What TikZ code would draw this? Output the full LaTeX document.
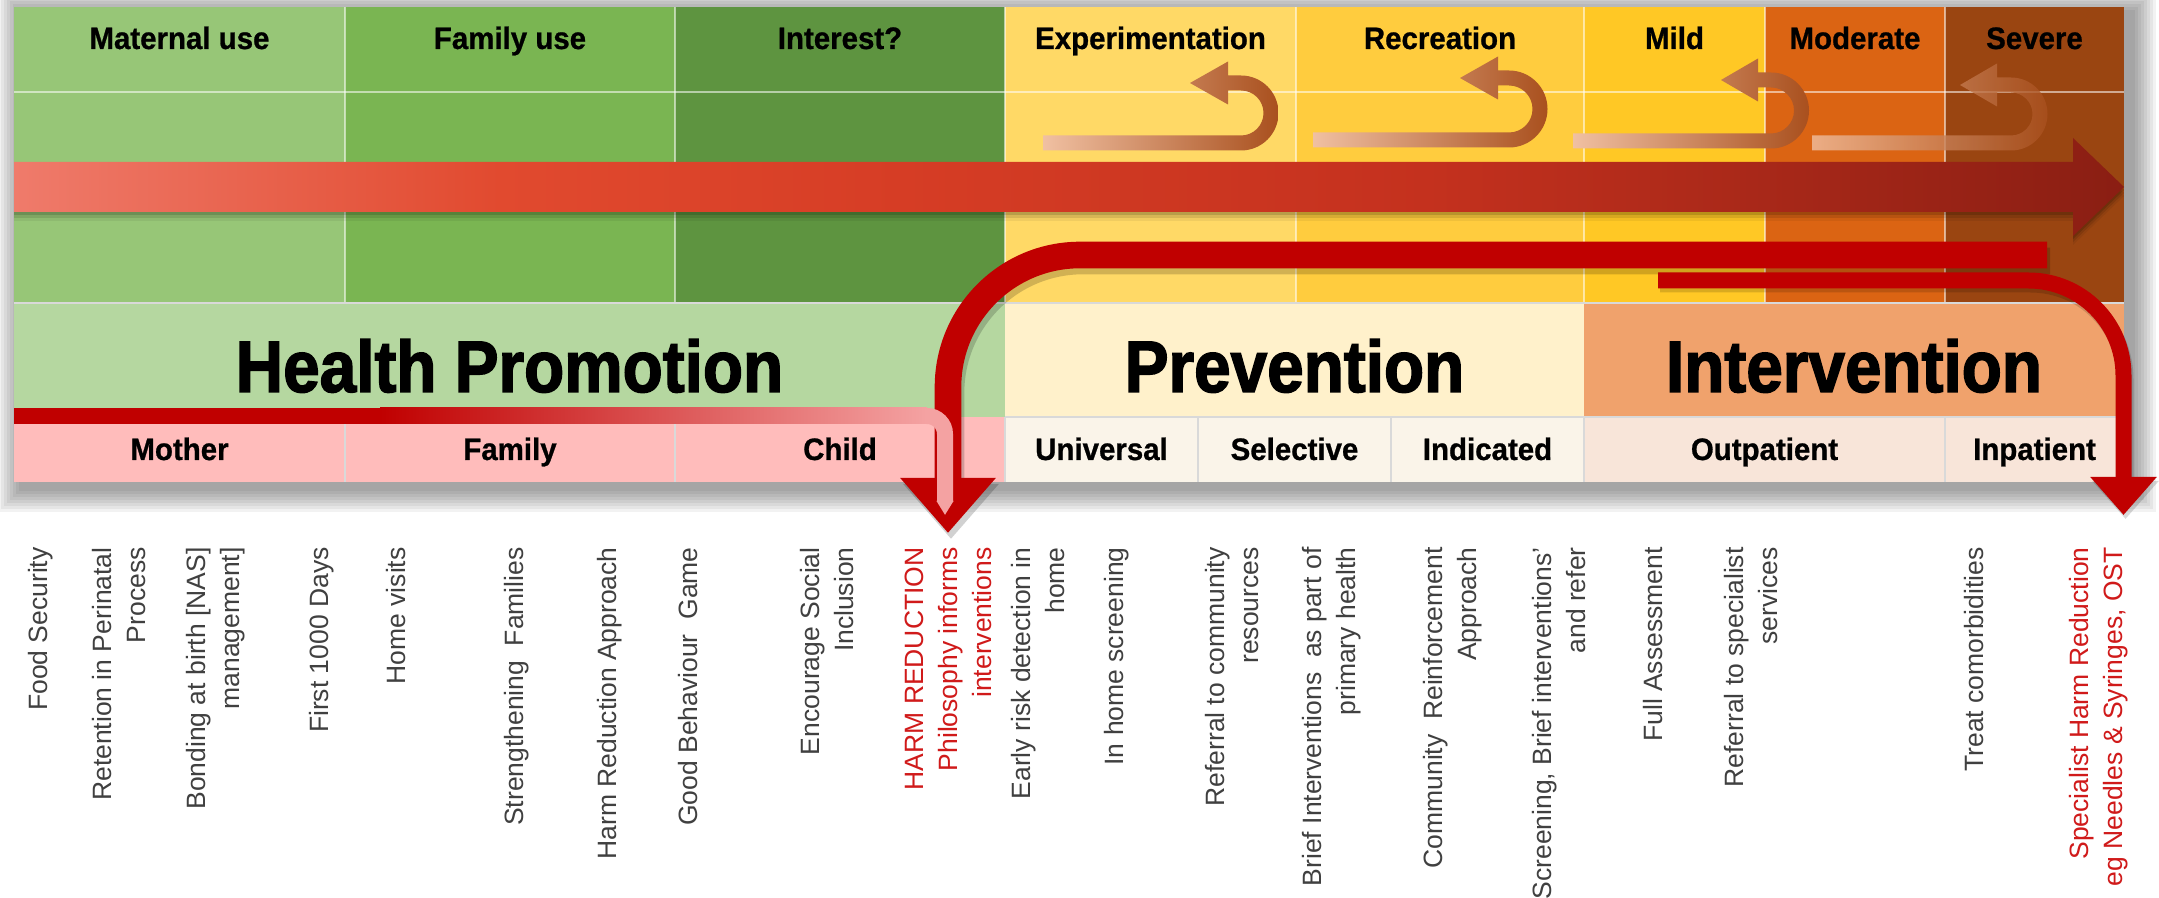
\documentclass[tikz,border=0pt]{standalone}
\usepackage{fontspec}
\setmainfont{Liberation Sans}
\newfontfamily\hdfont[UprightFont=* Bold,FakeStretch=0.95,FakeBold=0.8]{Liberation Sans}
\newfontfamily\bigfont[UprightFont=* Bold,FakeStretch=0.9,FakeBold=2]{Liberation Sans}
\usetikzlibrary{arrows.meta}
\definecolor{cMat}{HTML}{97C677}
\definecolor{cFam}{HTML}{7AB552}
\definecolor{cInt}{HTML}{5E9440}
\definecolor{cExp}{HTML}{FFD966}
\definecolor{cRec}{HTML}{FFCC3E}
\definecolor{cMild}{HTML}{FFC825}
\definecolor{cMod}{HTML}{DB6413}
\definecolor{cSev}{HTML}{9A4511}
\definecolor{cHP}{HTML}{B5D7A0}
\definecolor{cPrev}{HTML}{FFF1CB}
\definecolor{cIntv}{HTML}{F0A26C}
\definecolor{cPink}{HTML}{FFBCBB}
\definecolor{cPrevSub}{HTML}{FAF4E9}
\definecolor{cIntvSub}{HTML}{F8E5D9}
\definecolor{dred}{HTML}{C00000}
\definecolor{pinkarr}{HTML}{F4A2A2}
\definecolor{txt}{HTML}{404040}
\definecolor{redtxt}{HTML}{D01A1A}
\definecolor{ma1}{HTML}{EF7B6B}
\definecolor{ma2}{HTML}{E14A2F}
\definecolor{ma3}{HTML}{D63D25}
\definecolor{ma4}{HTML}{C4311E}
\definecolor{ma5}{HTML}{8A1E13}
\definecolor{uL}{HTML}{F0C0A2}
\definecolor{uR}{HTML}{A9501E}
\pgfdeclarehorizontalshading{mainarrow}{100bp}{color(0bp)=(ma1); color(25bp)=(ma1); color(36.5bp)=(ma2); color(46bp)=(ma3); color(58.5bp)=(ma4); color(75bp)=(ma5); color(100bp)=(ma5)}
\newcommand{\myuturn}[7]{%
  \pgfmathsetmacro{\uri}{#4-7.5}%
  \pgfmathsetmacro{\uro}{#4+7.5}%
  \pgfmathsetmacro{\uyt}{#2-2*#4}%
  \shade[left color=uL, right color=uR, opacity=#7]
    (#1,{#2-7.5}) -- (#3,{#2-7.5})
    arc[start angle=90, end angle=-90, radius=\uri]
    -- (#5,{\uyt+7.5}) -- (#5,{\uyt+21.5}) -- (#6,\uyt) -- (#5,{\uyt-21.5}) -- (#5,{\uyt-7.5}) -- (#3,{\uyt-7.5})
    arc[start angle=-90, end angle=90, radius=\uro]
    -- (#1,{#2+7.5}) -- cycle;}
\begin{document}
\begin{tikzpicture}[x=0.5pt,y=-0.5pt,
  hd/.style={font=\hdfont\fontsize{15.5}{18}\selectfont, anchor=base, inner sep=0pt, text=black},
  big/.style={font=\bigfont\fontsize{36.5}{40}\selectfont, anchor=base, inner sep=0pt, text=black},
  vt/.style={rotate=90, anchor=east, align=right, inner sep=0pt, font=\fontsize{13.25}{17}\selectfont, text=txt},
  vtred/.style={vt, text=redtxt},
  gridl/.style={draw=white, draw opacity=0.55, line width=0.7pt},
  subgrid/.style={draw=black!15, line width=0.6pt}]
\useasboundingbox (0,0) rectangle (2159,898);
\fill[white] (0,0) rectangle (2159,898);
% panel shadow
\foreach \i in {1,...,8}
  \fill[black, opacity=0.05] ({22-3*\i},{13-3*\i}) rectangle ({2132+3*\i},{488+3*\i});
% column fills
\fill[cMat] (14,7) rectangle (345,303);
\fill[cFam] (345,7) rectangle (675,303);
\fill[cInt] (675,7) rectangle (1005,303);
\fill[cExp] (1005,7) rectangle (1296,303);
\fill[cRec] (1296,7) rectangle (1584,303);
\fill[cMild] (1584,7) rectangle (1765,303);
\fill[cMod] (1765,7) rectangle (1945,303);
\fill[cSev] (1945,7) rectangle (2124,303);
% bands
\fill[cHP] (14,303) rectangle (1005,417);
\fill[cPrev] (1005,303) rectangle (1584,417);
\fill[cIntv] (1584,303) rectangle (2124,417);
% sub rows
\fill[cPink] (14,417) rectangle (1005,482);
\fill[cPrevSub] (1005,417) rectangle (1584,482);
\fill[cIntvSub] (1584,417) rectangle (2124,482);
% grid
\foreach \x in {345,675,1005,1296,1584,1765,1945} \draw[gridl] (\x,7) -- (\x,303);
\draw[gridl] (14,92) -- (2124,92);
\draw[subgrid] (14,303) -- (2124,303);
\draw[subgrid] (1005,417) -- (2124,417);
\foreach \x in {345,675,1005,1198,1391,1584,1945} \draw[subgrid] (\x,417) -- (\x,482);
% header labels
\node[hd] (hMat) at (179.5,49) {Maternal use};
\node[hd] (hFam) at (510,49) {Family use};
\node[hd] (hInt) at (840,49) {Interest?};
\node[hd] (hExp) at (1150.5,49) {Experimentation};
\node[hd] (hRec) at (1440,49) {Recreation};
\node[hd] (hMild) at (1674.5,49) {Mild};
\node[hd] (hMod) at (1855,49) {Moderate};
\node[hd] (hSev) at (2034.5,49) {Severe};
% u-turn arrows
\myuturn{1043}{143}{1241}{30}{1228}{1190}{1}
\myuturn{1313}{140}{1509}{31}{1498}{1460}{1}
\myuturn{1573}{141}{1771}{30.5}{1758}{1721}{1}
\myuturn{1812}{143}{2011}{29}{1997}{1960}{0.8}
% main arrow shadow
\foreach \s/\o in {3/0.14,6/0.1,9/0.06}
  \fill[black, opacity=\o] (14,{162+\s}) -- (2073,{162+\s}) -- (2073,{138+\s}) -- (2124,{187+\s}) -- (2073,{236+\s}) -- (2073,{212+\s}) -- (14,{212+\s}) -- cycle;
\shade[shading=mainarrow] (14,162) -- (2073,162) -- (2073,138) -- (2124,187) -- (2073,236) -- (2073,212) -- (14,212) -- cycle;
% big curved arrow
\coordinate (bigS) at (2047,255);
\coordinate (bigC) at (948,255);
\coordinate (bigE) at (948,533);
\draw[black, opacity=0.18, line width=13.3pt, rounded corners=66pt, -{Triangle[length=27.5pt,width=46pt]}, transform canvas={xshift=1.5pt,yshift=-3pt}] (bigS) -- (bigC) -- (bigE);
\draw[dred, line width=13.3pt, rounded corners=66pt, -{Triangle[length=27.5pt,width=46pt]}] (bigS) -- (bigC) -- (bigE);
% thin arrow
\coordinate (thS) at (1658,280.5);
\coordinate (thC) at (2123.5,280.5);
\coordinate (thE) at (2123.5,515);
\draw[black, opacity=0.15, line width=8pt, rounded corners=47.5pt, -{Triangle[length=19pt,width=32pt]}, transform canvas={xshift=1pt,yshift=-2pt}] (thS) -- (thC) -- (thE);
\draw[dred, line width=8pt, rounded corners=47.5pt, -{Triangle[length=19pt,width=32pt]}] (thS) -- (thC) -- (thE);
% band titles
\node[big] (tHP) at (509.5,392) {Health Promotion};
\node[big] (tPrev) at (1294.5,392) {Prevention};
\node[big] (tIntv) at (1854,392) {Intervention};
% pink arrow
\coordinate (pkS) at (925,416);
\coordinate (pkC) at (945,416);
\coordinate (pkE) at (945,515);
\fill[dred] (14,408) rectangle (380,424);
\shade[left color=dred, right color=pinkarr] (380,408) rectangle (927,424);
\draw[pinkarr, line width=8pt, rounded corners=9pt, -{Triangle[length=7pt,width=8pt]}] (pkS) -- (pkC) -- (pkE);
% sub labels
\node[hd] (sMot) at (179.5,460) {Mother};
\node[hd] (sFam) at (510,460) {Family};
\node[hd] (sChi) at (840,460) {Child};
\node[hd] (sUni) at (1101.5,460) {Universal};
\node[hd] (sSel) at (1294.5,460) {Selective};
\node[hd] (sInd) at (1487.5,460) {Indicated};
\node[hd] (sOut) at (1764.5,460) {Outpatient};
\node[hd] (sInp) at (2034.5,460) {Inpatient};
% vertical texts
\node[vt] (v1) at (41,547) {Food Security};
\node[vt] (v2) at (119,547) {Retention in Perinatal\\Process};
\node[vt] (v3) at (216,547) {Bonding at birth [NAS]\\management]};
\node[vt] (v4) at (321.5,547) {First 1000 Days};
\node[vt] (v5) at (396,547) {Home visits};
\node[vt] (v6) at (516.5,547) {Strengthening\ \ Families};
\node[vt] (v7) at (609.5,547) {Harm Reduction Approach};
\node[vt] (v8) at (688.5,547) {Good Behaviour\ \ Game};
\node[vt] (v9) at (827.5,547) {Encourage Social\\Inclusion};
\node[vtred] (v10) at (948,547) {HARM REDUCTION\\Philosophy informs\\interventions};
\node[vt] (v11) at (1038.5,547) {Early risk detection in\\home};
\node[vt] (v12) at (1116.5,547) {In home screening};
\node[vt] (v13) at (1232.5,547) {Referral to community\\resources};
\node[vt] (v14) at (1332,547) {Brief Interventions\ \ as part of\\primary health};
\node[vt] (v15) at (1453,547) {Community\ \ Reinforcement\\Approach};
\node[vt] (v16) at (1559,547) {Screening, Brief interventions'\\and refer};
\node[vt] (v17) at (1653,547) {Full Assessment};
\node[vt] (v18) at (1751,547) {Referral to specialist\\services};
\node[vt] (v19) at (1974,547) {Treat comorbidities};
\node[vtred] (v20) at (2098.5,547) {Specialist Harm Reduction\\eg Needles \& Syringes, OST};
\end{tikzpicture}
\end{document}
